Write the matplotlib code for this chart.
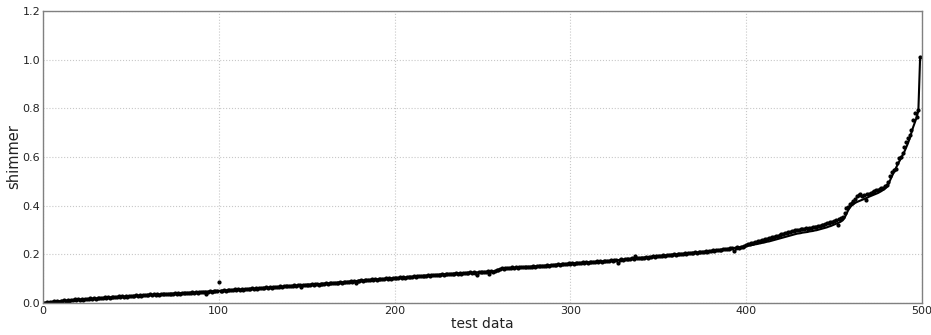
import matplotlib
matplotlib.use("Agg")
import matplotlib.pyplot as plt

# sorted reference values (solid line), one per test sample
true_vals = [
    0.000, 0.001, 0.002, 0.003, 0.004, 0.004, 0.005, 0.006, 0.007, 0.007,
    0.008, 0.008, 0.009, 0.010, 0.010, 0.011, 0.012, 0.012, 0.013, 0.013,
    0.014, 0.014, 0.015, 0.015, 0.016, 0.016, 0.017, 0.017, 0.018, 0.018,
    0.019, 0.019, 0.020, 0.020, 0.021, 0.021, 0.022, 0.022, 0.023, 0.023,
    0.024, 0.024, 0.025, 0.025, 0.025, 0.026, 0.026, 0.027, 0.027, 0.028,
    0.028, 0.029, 0.029, 0.030, 0.030, 0.031, 0.031, 0.032, 0.032, 0.033,
    0.033, 0.033, 0.034, 0.034, 0.035, 0.035, 0.035, 0.036, 0.036, 0.037,
    0.037, 0.037, 0.038, 0.038, 0.039, 0.039, 0.039, 0.040, 0.040, 0.041,
    0.041, 0.041, 0.042, 0.042, 0.043, 0.043, 0.043, 0.044, 0.044, 0.045,
    0.045, 0.046, 0.046, 0.047, 0.047, 0.048, 0.048, 0.049, 0.049, 0.050,
    0.050, 0.050, 0.051, 0.051, 0.052, 0.052, 0.053, 0.053, 0.054, 0.054,
    0.054, 0.055, 0.055, 0.056, 0.056, 0.057, 0.057, 0.058, 0.058, 0.059,
    0.059, 0.060, 0.060, 0.061, 0.061, 0.062, 0.062, 0.063, 0.063, 0.064,
    0.064, 0.065, 0.065, 0.066, 0.066, 0.067, 0.067, 0.068, 0.069, 0.069,
    0.070, 0.070, 0.071, 0.071, 0.072, 0.072, 0.073, 0.073, 0.074, 0.074,
    0.075, 0.075, 0.076, 0.076, 0.077, 0.077, 0.078, 0.078, 0.079, 0.079,
    0.080, 0.080, 0.081, 0.081, 0.082, 0.082, 0.083, 0.083, 0.084, 0.084,
    0.085, 0.086, 0.086, 0.087, 0.088, 0.088, 0.089, 0.090, 0.090, 0.091,
    0.092, 0.092, 0.093, 0.093, 0.094, 0.095, 0.095, 0.096, 0.096, 0.097,
    0.097, 0.098, 0.098, 0.099, 0.099, 0.100, 0.100, 0.101, 0.101, 0.102,
    0.102, 0.103, 0.103, 0.104, 0.104, 0.105, 0.105, 0.106, 0.107, 0.107,
    0.108, 0.108, 0.109, 0.110, 0.110, 0.111, 0.111, 0.112, 0.113, 0.113,
    0.114, 0.114, 0.115, 0.115, 0.116, 0.116, 0.117, 0.117, 0.118, 0.118,
    0.119, 0.119, 0.120, 0.120, 0.121, 0.121, 0.122, 0.122, 0.122, 0.123,
    0.123, 0.124, 0.124, 0.125, 0.125, 0.125, 0.126, 0.126, 0.127, 0.127,
    0.127, 0.128, 0.128, 0.129, 0.129, 0.130, 0.130, 0.131, 0.133, 0.136,
    0.139, 0.141, 0.142, 0.143, 0.143, 0.144, 0.144, 0.145, 0.145, 0.145,
    0.146, 0.146, 0.147, 0.147, 0.148, 0.148, 0.149, 0.149, 0.150, 0.150,
    0.151, 0.151, 0.152, 0.152, 0.153, 0.153, 0.154, 0.155, 0.155, 0.156,
    0.156, 0.157, 0.157, 0.158, 0.159, 0.159, 0.160, 0.160, 0.161, 0.162,
    0.162, 0.163, 0.163, 0.164, 0.164, 0.165, 0.165, 0.166, 0.166, 0.167,
    0.167, 0.168, 0.168, 0.169, 0.169, 0.170, 0.170, 0.171, 0.171, 0.172,
    0.172, 0.173, 0.173, 0.174, 0.175, 0.175, 0.176, 0.176, 0.177, 0.178,
    0.178, 0.179, 0.180, 0.180, 0.181, 0.182, 0.182, 0.183, 0.184, 0.185,
    0.185, 0.186, 0.187, 0.188, 0.188, 0.189, 0.190, 0.191, 0.191, 0.192,
    0.193, 0.194, 0.194, 0.195, 0.196, 0.196, 0.197, 0.198, 0.198, 0.199,
    0.200, 0.200, 0.201, 0.202, 0.202, 0.203, 0.204, 0.204, 0.205, 0.206,
    0.206, 0.207, 0.208, 0.208, 0.209, 0.210, 0.211, 0.211, 0.212, 0.213,
    0.214, 0.215, 0.215, 0.216, 0.217, 0.218, 0.219, 0.220, 0.221, 0.222,
    0.223, 0.224, 0.225, 0.226, 0.227, 0.228, 0.229, 0.230, 0.232, 0.233,
    0.234, 0.235, 0.237, 0.238, 0.239, 0.241, 0.242, 0.244, 0.245, 0.247,
    0.248, 0.250, 0.252, 0.253, 0.255, 0.257, 0.259, 0.261, 0.263, 0.265,
    0.267, 0.269, 0.271, 0.273, 0.275, 0.277, 0.279, 0.281, 0.283, 0.285,
    0.286, 0.287, 0.289, 0.290, 0.291, 0.292, 0.294, 0.295, 0.296, 0.298,
    0.299, 0.301, 0.303, 0.305, 0.307, 0.309, 0.311, 0.314, 0.316, 0.319,
    0.322, 0.325, 0.328, 0.331, 0.335, 0.340, 0.350, 0.365, 0.380, 0.392,
    0.400, 0.406, 0.411, 0.415, 0.418, 0.421, 0.424, 0.427, 0.430, 0.433,
    0.437, 0.440, 0.443, 0.446, 0.449, 0.452, 0.456, 0.460, 0.465, 0.470,
    0.476, 0.490, 0.506, 0.522, 0.537, 0.552, 0.566, 0.580, 0.593, 0.607,
    0.621, 0.638, 0.655, 0.675, 0.698, 0.722, 0.742, 0.762, 0.790, 1.010,
]

# predicted values (dots), same order
pred_vals = [
    0.002, 0.000, 0.004, 0.002, 0.006, 0.003, 0.007, 0.005, 0.008, 0.006,
    0.010, 0.007, 0.011, 0.009, 0.012, 0.010, 0.013, 0.011, 0.015, 0.012,
    0.016, 0.013, 0.017, 0.014, 0.015, 0.018, 0.016, 0.019, 0.017, 0.020,
    0.018, 0.021, 0.019, 0.022, 0.020, 0.023, 0.021, 0.024, 0.022, 0.025,
    0.023, 0.026, 0.024, 0.027, 0.024, 0.027, 0.025, 0.028, 0.026, 0.029,
    0.027, 0.030, 0.028, 0.031, 0.029, 0.032, 0.030, 0.034, 0.031, 0.034,
    0.032, 0.035, 0.033, 0.036, 0.034, 0.036, 0.034, 0.037, 0.035, 0.038,
    0.036, 0.039, 0.037, 0.039, 0.038, 0.041, 0.038, 0.041, 0.039, 0.042,
    0.040, 0.043, 0.041, 0.043, 0.042, 0.044, 0.042, 0.046, 0.043, 0.046,
    0.044, 0.047, 0.045, 0.038, 0.046, 0.049, 0.047, 0.050, 0.048, 0.051,
    0.086, 0.051, 0.050, 0.053, 0.051, 0.054, 0.052, 0.055, 0.053, 0.056,
    0.053, 0.056, 0.054, 0.057, 0.055, 0.058, 0.056, 0.059, 0.057, 0.060,
    0.058, 0.061, 0.059, 0.062, 0.060, 0.063, 0.061, 0.064, 0.062, 0.065,
    0.063, 0.066, 0.064, 0.067, 0.065, 0.068, 0.066, 0.069, 0.068, 0.070,
    0.069, 0.071, 0.070, 0.072, 0.071, 0.073, 0.072, 0.067, 0.073, 0.075,
    0.074, 0.076, 0.075, 0.077, 0.076, 0.078, 0.077, 0.072, 0.078, 0.080,
    0.079, 0.081, 0.080, 0.082, 0.081, 0.083, 0.082, 0.084, 0.083, 0.085,
    0.084, 0.087, 0.085, 0.088, 0.087, 0.089, 0.088, 0.091, 0.084, 0.092,
    0.091, 0.093, 0.092, 0.094, 0.093, 0.096, 0.094, 0.097, 0.095, 0.098,
    0.096, 0.099, 0.097, 0.100, 0.098, 0.101, 0.099, 0.102, 0.100, 0.103,
    0.101, 0.104, 0.102, 0.105, 0.103, 0.106, 0.104, 0.107, 0.106, 0.108,
    0.107, 0.109, 0.108, 0.111, 0.109, 0.112, 0.110, 0.113, 0.112, 0.114,
    0.113, 0.115, 0.114, 0.116, 0.115, 0.117, 0.116, 0.118, 0.117, 0.119,
    0.118, 0.120, 0.119, 0.121, 0.120, 0.122, 0.121, 0.123, 0.121, 0.124,
    0.122, 0.125, 0.123, 0.126, 0.124, 0.126, 0.125, 0.116, 0.126, 0.128,
    0.126, 0.129, 0.127, 0.130, 0.119, 0.131, 0.129, 0.132, 0.134, 0.137,
    0.140, 0.142, 0.141, 0.144, 0.142, 0.145, 0.143, 0.146, 0.144, 0.146,
    0.145, 0.147, 0.146, 0.148, 0.147, 0.149, 0.148, 0.150, 0.149, 0.151,
    0.150, 0.152, 0.151, 0.153, 0.152, 0.154, 0.153, 0.156, 0.154, 0.157,
    0.155, 0.158, 0.156, 0.159, 0.158, 0.160, 0.159, 0.161, 0.160, 0.163,
    0.161, 0.164, 0.162, 0.165, 0.163, 0.166, 0.164, 0.167, 0.165, 0.168,
    0.166, 0.169, 0.167, 0.170, 0.168, 0.171, 0.169, 0.172, 0.170, 0.173,
    0.171, 0.174, 0.172, 0.175, 0.174, 0.176, 0.175, 0.163, 0.176, 0.179,
    0.177, 0.180, 0.179, 0.181, 0.180, 0.183, 0.181, 0.193, 0.183, 0.186,
    0.184, 0.187, 0.186, 0.189, 0.187, 0.190, 0.189, 0.192, 0.190, 0.193,
    0.192, 0.195, 0.193, 0.196, 0.195, 0.197, 0.196, 0.199, 0.197, 0.200,
    0.199, 0.201, 0.200, 0.203, 0.201, 0.204, 0.203, 0.205, 0.204, 0.207,
    0.205, 0.208, 0.207, 0.209, 0.208, 0.211, 0.210, 0.212, 0.211, 0.214,
    0.213, 0.216, 0.214, 0.217, 0.216, 0.219, 0.218, 0.221, 0.220, 0.223,
    0.222, 0.225, 0.224, 0.214, 0.226, 0.229, 0.228, 0.231, 0.231, 0.234,
    0.240, 0.241, 0.244, 0.245, 0.247, 0.250, 0.251, 0.254, 0.255, 0.258,
    0.259, 0.262, 0.264, 0.266, 0.268, 0.270, 0.273, 0.275, 0.277, 0.280,
    0.282, 0.284, 0.286, 0.289, 0.291, 0.293, 0.295, 0.297, 0.299, 0.301,
    0.302, 0.303, 0.305, 0.304, 0.307, 0.306, 0.309, 0.308, 0.311, 0.312,
    0.314, 0.316, 0.318, 0.320, 0.322, 0.324, 0.327, 0.329, 0.332, 0.334,
    0.338, 0.341, 0.320, 0.347, 0.350, 0.355, 0.368, 0.389, 0.396, 0.405,
    0.410, 0.420, 0.428, 0.438, 0.442, 0.448, 0.440, 0.444, 0.425, 0.447,
    0.450, 0.452, 0.455, 0.460, 0.464, 0.466, 0.470, 0.471, 0.474, 0.482,
    0.485, 0.498, 0.520, 0.540, 0.548, 0.552, 0.575, 0.594, 0.600, 0.615,
    0.643, 0.663, 0.677, 0.690, 0.712, 0.752, 0.780, 0.766, 0.795, 1.010,
]

x_ticks = [0, 100, 200, 300, 400, 500]
y_ticks = [0.0, 0.2, 0.4, 0.6, 0.8, 1.0, 1.2]

fig = plt.figure(figsize=(9.31, 3.35), dpi=100)
ax = fig.add_axes([0.0462, 0.0955, 0.944, 0.8717])

ax.plot(range(len(true_vals)), true_vals, "k-", lw=1.5)
ax.plot(range(len(pred_vals)), pred_vals, "k.", ms=4)

ax.set_xlim(0, 500)
ax.set_ylim(0, 1.2)
ax.set_xticks(x_ticks)
ax.set_yticks(y_ticks)
ax.set_yticklabels(["%.1f" % v for v in y_ticks])
ax.grid(True, color="#c8c8c8", linestyle=":", linewidth=0.8)
ax.tick_params(length=0, labelsize=8, pad=2, colors="#222222")
for s in ax.spines.values():
    s.set_color("#808080")
    s.set_linewidth(1.0)

ax.set_xlabel("test data", fontsize=10, labelpad=1, color="#222222")
ax.set_ylabel("shimmer", fontsize=10.5, labelpad=1, color="#222222")

fig.savefig("out.png", dpi=100)
